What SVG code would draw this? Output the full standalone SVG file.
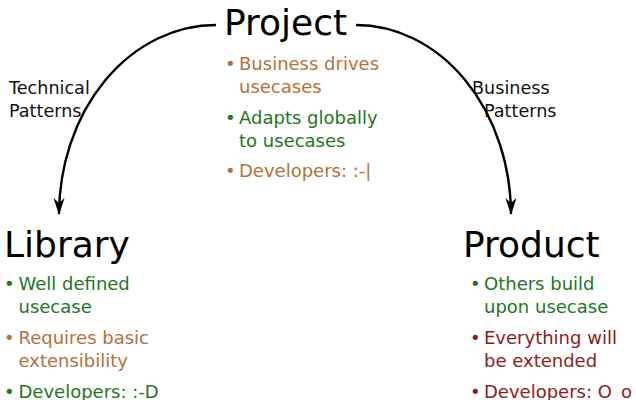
<svg xmlns="http://www.w3.org/2000/svg" width="636" height="400" viewBox="0 0 636 400">
<defs>
<style>
text{font-family:"DejaVu Sans","Liberation Sans",sans-serif;}
.title{font-size:36px;fill:#000;}
.lbl{font-size:17.6px;fill:#111;}
.b{font-size:18px;}
.or{fill:#b5703c;}
.gr{fill:#23761f;}
.rd{fill:#8a1c1c;}
.edge{fill:none;stroke:#000;stroke-width:2.4;}
</style>
<marker id="ah" markerUnits="userSpaceOnUse" viewBox="-18 -7 20 14" markerWidth="20" markerHeight="14" refX="0" refY="0" orient="auto">
<path d="M1,0 L-16,-5.5 L-11,0 L-16,5.5 Z" fill="#000"/>
</marker>
</defs>
<rect width="636" height="400" fill="#fff"/>
<g id="connectors">
<path class="edge" d="M216,25 A157,190 0 0 0 59,214" marker-end="url(#ah)"/>
<path class="edge" d="M356,25 A155,190 0 0 1 511,214" marker-end="url(#ah)"/>
<text class="lbl" x="9" y="94">Technical</text>
<text class="lbl" x="9" y="117">Patterns</text>
<text class="lbl" x="472" y="94">Business</text>
<text class="lbl" x="484" y="117">Patterns</text>
</g>
<g id="project">
<text class="title" x="224" y="35">Project</text>
<g class="b">
<text class="or" x="225" y="70">•</text>
<text class="or" x="239" y="70">Business drives</text>
<text class="or" x="239" y="93">usecases</text>
<text class="gr" x="225" y="124">•</text>
<text class="gr" x="239" y="124">Adapts globally</text>
<text class="gr" x="239" y="147">to usecases</text>
<text class="or" x="225" y="177">•</text>
<text class="or" x="239" y="177">Developers: :-|</text>
</g>
</g>
<g id="library">
<text class="title" x="4" y="257">Library</text>
<g class="b">
<text class="gr" x="4" y="290">•</text>
<text class="gr" x="18.5" y="290">Well defined</text>
<text class="gr" x="18.5" y="313">usecase</text>
<text class="or" x="4" y="344">•</text>
<text class="or" x="18.5" y="344">Requires basic</text>
<text class="or" x="18.5" y="367">extensibility</text>
<text class="gr" x="4" y="398">•</text>
<text class="gr" x="18.5" y="398">Developers: :-D</text>
</g>
</g>
<g id="product">
<text class="title" x="463" y="257">Product</text>
<g class="b">
<text class="gr" x="470" y="290">•</text>
<text class="gr" x="484" y="290">Others build</text>
<text class="gr" x="484" y="313">upon usecase</text>
<text class="rd" x="470" y="344">•</text>
<text class="rd" x="484" y="344">Everything will</text>
<text class="rd" x="484" y="367">be extended</text>
<text class="rd" x="470" y="398">•</text>
<text class="rd" x="484" y="398">Developers: O_o</text>
</g>
</g>
</svg>
